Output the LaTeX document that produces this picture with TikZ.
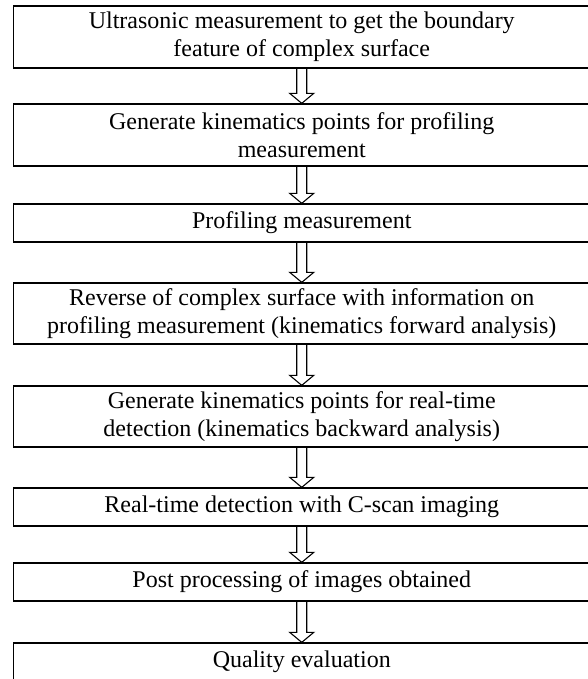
\documentclass[tikz,border=0pt]{standalone}
\usepackage{fontspec}
\setmainfont{Liberation Serif}
\usetikzlibrary{calc}
\tikzset{
  stepbox/.style={draw=black, line width=1.3pt, inner sep=0pt, minimum width=576.5pt, align=center,
    font=\fontsize{24}{28}\selectfont},
  arrowline/.style={draw=black, line width=1.1pt, fill=white, line join=miter}
}
\newcommand{\flowarrow}[2]{%
  \draw[arrowline] ($(#1.south)+(-5pt,-0.5pt)$) -- ($(#2.north)+(-5pt,10pt)$) -- ($(#2.north)+(-12pt,10pt)$) -- (#2.north) -- ($(#2.north)+(12pt,10pt)$) -- ($(#2.north)+(5pt,10pt)$) -- ($(#1.south)+(5pt,-0.5pt)$);}
\begin{document}
\begin{tikzpicture}[x=1pt,y=1pt]
\useasboundingbox (0,0) rectangle (588,-679);
\clip (0,0) rectangle (588,-679);
\node[stepbox, minimum height=62pt] (b1) at (301.75,-37) {Ultrasonic measurement to get the boundary\\feature of complex surface};
\node[stepbox, minimum height=62pt] (b2) at (301.75,-135) {Generate kinematics points for profiling\\measurement};
\node[stepbox, minimum height=38pt] (b3) at (301.75,-223) {Profiling measurement};
\node[stepbox, minimum height=61pt] (b4) at (301.75,-313.5) {Reverse of complex surface with information on\\profiling measurement (kinematics forward analysis)};
\node[stepbox, minimum height=61pt] (b5) at (301.75,-416.5) {Generate kinematics points for real-time\\detection (kinematics backward analysis)};
\node[stepbox, minimum height=38pt] (b6) at (301.75,-507) {Real-time detection with C-scan imaging};
\node[stepbox, minimum height=38pt] (b7) at (301.75,-582) {Post processing of images obtained};
\node[stepbox, minimum height=38pt] (b8) at (301.75,-662) {Quality evaluation};
\flowarrow{b1}{b2}
\flowarrow{b2}{b3}
\flowarrow{b3}{b4}
\flowarrow{b4}{b5}
\flowarrow{b5}{b6}
\flowarrow{b6}{b7}
\flowarrow{b7}{b8}
\end{tikzpicture}
\end{document}
